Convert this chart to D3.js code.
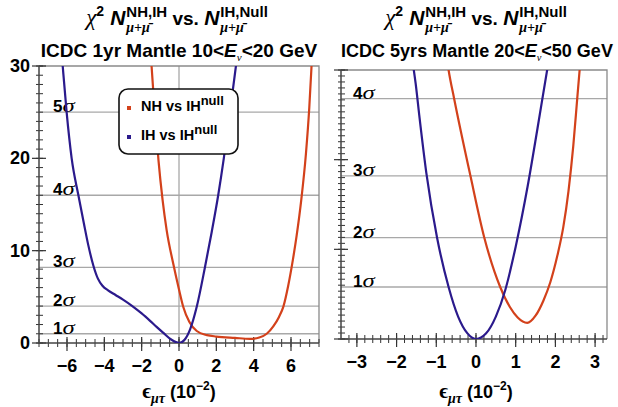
<!DOCTYPE html>
<html>
<head>
<meta charset="utf-8">
<script src="https://cdn.jsdelivr.net/npm/d3@7"></script>
<style>
  body { margin: 0; background: #fff; }
  svg { display: block; }
  text { white-space: pre; }
</style>
</head>
<body>
<div id="chart"></div>
<script>
// Data (chi2 readings along eps_mu_tau, in units of 1e-2)
const leftBlueX = [-6.35, -6.23, -6.02, -5.75, -5.39, -5.1, -4.86, -4.59, -4.35, -4.1, -3.8, -3.4, -3.0, -2.5, -2.0, -1.55, -1.2, -0.84, -0.4, 0, 0.3, 0.6, 0.96, 1.39, 1.75, 2.1, 2.4, 2.73, 3.05, 3.15];
const leftBlueY = [33, 30, 25, 20, 16, 13, 10.6, 8.4, 7.0, 6.2, 5.7, 5.2, 4.7, 4.0, 3.2, 2.4, 1.75, 1.1, 0.35, 0, 0.35, 1.5, 4.0, 8.2, 12.0, 16, 20, 25, 30, 31.6];
const leftRedX = [-1.57, -1.47, -1.3, -1.1, -0.88, -0.66, -0.31, 0, 0.23, 0.55, 0.95, 1.5, 2.0, 3.0, 3.8, 4.3, 4.7, 5.05, 5.35, 5.6, 5.85, 6.1, 6.3, 6.55, 6.8, 6.98, 7.1, 7.15];
const leftRedY = [33.5, 30, 25, 19.8, 15.5, 12.2, 8.6, 5.8, 3.9, 2.3, 1.3, 0.85, 0.7, 0.55, 0.45, 0.6, 1.0, 1.8, 2.8, 4.0, 6.2, 9.0, 11.6, 15.5, 20.5, 25.5, 30, 32];

const rightBlueX = [-1.6, -1.52, -1.43, -1.25, -0.98, -0.69, -0.45, -0.22, 0, 0.25, 0.5, 0.74, 1.0, 1.3, 1.55, 1.8, 1.85];
const rightBlueY = [31, 28.5, 25, 18.5, 11.3, 5.8, 2.5, 0.65, 0, 0.6, 2.5, 5.5, 10.3, 17, 23.5, 30.2, 31.5];
const rightRedX = [-0.74, -0.69, -0.55, -0.14, 0.21, 0.61, 0.85, 1.05, 1.29, 1.5, 1.7, 1.87, 2.05, 2.2, 2.33, 2.45, 2.55, 2.62];
const rightRedY = [31.5, 30, 26.8, 18.2, 11.3, 5.8, 3.6, 2.4, 1.8, 2.6, 4.3, 6.3, 9.3, 12.5, 16.5, 21.5, 26.8, 30.5];

const leftSigma = [1, 4, 8.2, 16, 25];
const rightSigma = [5.8, 11.3, 18.2, 26.8];
const sigmaNames = ['1', '2', '3', '4', '5'];

const leftXTicks = [-6, -4, -2, 0, 2, 4, 6];
const leftYTicks = [0, 10, 20, 30];
const rightXTicks = [-3, -2, -1, 0, 1, 2, 3];
const rightYTicks = [0, 10, 20, 30];

const legendNames = ['NH vs IH', 'IH vs IH'];

const RED = '#d3411b';
const BLUE = '#2b1a8c';
const SANS = 'Liberation Sans, Arial, sans-serif';
const SERIF = 'Liberation Serif, Times New Roman, serif';

const width = 618, height = 407;
const svg = d3.select('#chart').append('svg')
  .attr('width', width).attr('height', height);

// lays out a row of text pieces, stacked super/sub pieces share one slot
function rich(parent, x, y, parts, anchor) {
  const g = parent.append('g');
  let cx = 0;
  parts.forEach(p => {
    const items = p.stack ? p.stack : [p];
    let w = 0;
    items.forEach(it => {
      const sx = it.sx || 1;
      const t = g.append('text')
        .attr('xml:space', 'preserve')
        .attr('x', cx / sx).attr('y', it.dy || 0)
        .attr('font-family', it.family || SANS)
        .attr('font-size', it.size || 16)
        .attr('font-weight', it.weight || 'bold')
        .attr('font-style', it.italic ? 'italic' : 'normal')
        .attr('fill', '#000')
        .text(it.t);
      if (sx !== 1) t.attr('transform', `scale(${sx},1)`);
      w = Math.max(w, t.node().getComputedTextLength() * sx);
    });
    cx += w + (p.gap || 0);
  });
  const shift = anchor === 'middle' ? -cx / 2 : anchor === 'end' ? -cx : 0;
  g.attr('transform', `translate(${x + shift},${y})`);
  return g;
}

function titleLine1(cx) {
  const N = (sup) => ({ stack: [
    { t: sup, size: 15, dy: -8 },
    { t: 'μ+μ̄', size: 14, dy: 7, italic: true, family: SERIF, weight: 'bold' }
  ]});
  rich(svg, cx, 25, [
    { t: 'χ', size: 23, italic: true, family: SERIF, weight: 'normal' },
    { t: '2', size: 14, dy: -9, gap: 6 },
    { t: 'N', size: 21, italic: true, gap: 1 },
    N('NH,IH'),
    { t: ' vs. ', size: 19 },
    { t: 'N', size: 21, italic: true, gap: 1 },
    N('IH,Null')
  ], 'middle');
}

function titleLine2(cx, pre, post, fs) {
  rich(svg, cx, 57, [
    { t: pre, size: fs },
    { t: 'E', size: fs, italic: true },
    { t: 'ν', size: fs * 0.58, dy: 4, italic: true, family: SERIF, weight: 'normal' },
    { t: post, size: fs }
  ], 'middle');
}

function xLabel(cx) {
  rich(svg, cx, 398, [
    { t: 'ϵ', size: 21, family: SERIF },
    { t: 'μτ', size: 14, dy: 5, italic: true, family: SERIF, weight: 'bold', gap: 5 },
    { t: '(10', size: 18 },
    { t: '−2', size: 12, dy: -8 },
    { t: ')', size: 18 }
  ], 'middle');
}

function panel(opt) {
  const x = d3.scaleLinear().domain(opt.xDomain).range(opt.xRange);
  const y = d3.scaleLinear().domain([0, 30]).range(opt.yRange);
  const [x0, x1] = opt.xRange;
  const [y0, y1] = opt.yRange;
  const g = svg.append('g');

  const clipId = 'clip' + opt.id;
  svg.append('clipPath').attr('id', clipId)
    .append('rect').attr('x', x0).attr('y', y1).attr('width', x1 - x0).attr('height', y0 - y1);

  // sigma reference lines
  g.selectAll('line.sig').data(opt.sigma).join('line')
    .attr('class', 'sig')
    .attr('x1', x0).attr('x2', x1)
    .attr('y1', d => y(d)).attr('y2', d => y(d))
    .attr('stroke', '#a8a8a8').attr('stroke-width', 1.3);
  if (opt.zeroLine) {
    g.append('line')
      .attr('x1', x(0)).attr('x2', x(0)).attr('y1', y0).attr('y2', y1)
      .attr('stroke', '#a8a8a8').attr('stroke-width', 1.3);
  }

  // frame
  g.append('path')
    .attr('d', `M${x0},${y1}H${x1}V${y0}`)
    .attr('fill', 'none').attr('stroke', '#8a8a8a').attr('stroke-width', 1.3);

  // x ticks (through the axis)
  const minorX = d3.range(opt.xDomain[0], opt.xDomain[1] + 1e-9, opt.xMinor)
    .map(v => Math.round(v / opt.xMinor) * opt.xMinor)
    .filter(v => v >= opt.xDomain[0] && v <= opt.xDomain[1]);
  g.selectAll('line.xminor').data(minorX).join('line')
    .attr('x1', d => x(d)).attr('x2', d => x(d))
    .attr('y1', y0 - 4).attr('y2', y0 + 4)
    .attr('stroke', '#333').attr('stroke-width', 1);
  g.selectAll('line.xmajor').data(opt.xTicks).join('line')
    .attr('x1', d => x(d)).attr('x2', d => x(d))
    .attr('y1', y0 - 6).attr('y2', y0 + 8)
    .attr('stroke', '#333').attr('stroke-width', 1.2);

  // y ticks
  const minorY = d3.range(0, 30.001, opt.yMinor);
  g.selectAll('line.yminor').data(minorY).join('line')
    .attr('x1', x0 - 3).attr('x2', x0 + 4)
    .attr('y1', d => y(d)).attr('y2', d => y(d))
    .attr('stroke', '#333').attr('stroke-width', 1);
  g.selectAll('line.ymajor').data(opt.yTicks).join('line')
    .attr('x1', x0 - 7).attr('x2', x0 + 7)
    .attr('y1', d => y(d)).attr('y2', d => y(d))
    .attr('stroke', '#333').attr('stroke-width', 1.2);

  // axes
  g.append('path')
    .attr('d', `M${x0},${y1}V${y0}H${x1}`)
    .attr('fill', 'none').attr('stroke', '#444').attr('stroke-width', 1.5);

  // tick labels
  g.selectAll('text.xl').data(opt.xTicks).join('text')
    .attr('x', d => x(d)).attr('y', y0 + 29)
    .attr('text-anchor', 'middle')
    .attr('font-family', SANS).attr('font-weight', 'bold').attr('font-size', 18)
    .text(d => d < 0 ? '−' + Math.abs(d) : d);
  if (opt.yLabels) {
    g.selectAll('text.yl').data(opt.yTicks).join('text')
      .attr('x', x0 - 9).attr('y', d => y(d) + 6)
      .attr('text-anchor', 'end')
      .attr('font-family', SANS).attr('font-weight', 'bold').attr('font-size', 18)
      .text(d => d);
  }

  // sigma labels
  opt.sigma.forEach((s, i) => {
    rich(g, x0 + opt.sigmaDx, y(s), [
      { t: sigmaNames[i], size: 17 },
      { t: 'σ', size: 19, sx: 1.3, italic: true, family: SERIF, weight: 'normal' }
    ], 'start');
  });

  // curves
  const line = d3.line().x(d => x(d[0])).y(d => y(d[1])).curve(d3.curveMonotoneX);
  const cg = g.append('g').attr('clip-path', `url(#${clipId})`);
  opt.curves.forEach(c => {
    cg.append('path')
      .datum(d3.zip(c.xs, c.ys))
      .attr('d', line)
      .attr('fill', 'none').attr('stroke', c.color).attr('stroke-width', 2.2);
  });
  return { x, y };
}

panel({
  id: 'L', xDomain: [-7.5, 7.5], xRange: [39, 319], yRange: [343, 66],
  xTicks: leftXTicks, yTicks: leftYTicks, xMinor: 0.5, yMinor: 1, yLabels: true,
  sigma: leftSigma, sigmaDx: 14, zeroLine: true,
  curves: [
    { xs: leftRedX, ys: leftRedY, color: RED },
    { xs: leftBlueX, ys: leftBlueY, color: BLUE }
  ]
});

panel({
  id: 'R', xDomain: [-3.4, 3.3], xRange: [341, 607], yRange: [339, 70],
  xTicks: rightXTicks, yTicks: rightYTicks, xMinor: 0.2, yMinor: 10 / 15, yLabels: false,
  sigma: rightSigma, sigmaDx: 12, zeroLine: false,
  curves: [
    { xs: rightRedX, ys: rightRedY, color: RED },
    { xs: rightBlueX, ys: rightBlueY, color: BLUE }
  ]
});

// titles
titleLine1(177);
titleLine2(179, 'ICDC 1yr Mantle 10<', '<20 GeV', 19);
titleLine1(476);
titleLine2(477, 'ICDC 5yrs Mantle 20<', '<50 GeV', 18);
xLabel(179);
xLabel(476);

// legend
const leg = svg.append('g');
leg.append('rect')
  .attr('x', 119).attr('y', 89).attr('width', 119).attr('height', 65).attr('rx', 9)
  .attr('fill', '#fff').attr('stroke', '#111').attr('stroke-width', 1.6);
[RED, BLUE].forEach((c, i) => {
  const yy = 111 + i * 29;
  leg.append('rect').attr('x', 127).attr('y', yy - 5).attr('width', 4).attr('height', 4).attr('fill', c);
  rich(leg, 141, yy, [
    { t: legendNames[i], size: 14.5 },
    { t: 'null', size: 13, dy: -6 }
  ], 'start');
});
</script>
</body>
</html>
